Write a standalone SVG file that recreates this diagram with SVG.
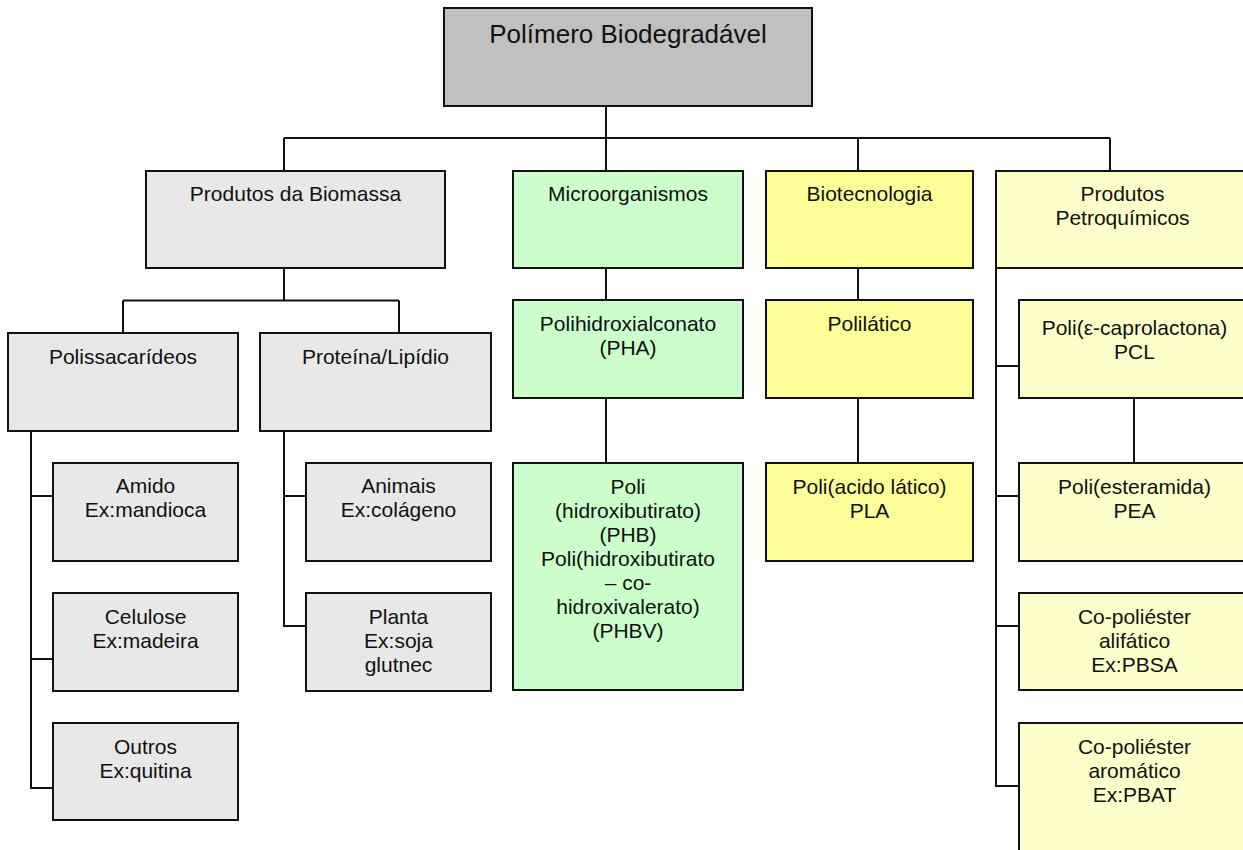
<svg xmlns="http://www.w3.org/2000/svg" width="1243" height="850" viewBox="0 0 1243 850">
<style>
rect{stroke:#111;stroke-width:2}
.top{fill:#c0c0c0}
.g{fill:#e8e8e8}
.gr{fill:#ccffcc}
.y{fill:#ffff99}
.ly{fill:#ffffcc}
text{font-family:"Liberation Sans",Arial,sans-serif;font-size:21px;fill:#111;text-anchor:middle}
.t{font-size:26px}
.c{fill:none;stroke:#111;stroke-width:2}
</style>
<rect width="1243" height="850" fill="#fff" style="stroke:none"/>
<g id="connectors" class="c">
<path d="M606 106V138M284 138H1110M284 138V171M606 138V171M858 138V171M1110 138V171"/>
<path d="M284 268V300.5M123 300.5H399M123 300.5V333M399 300.5V333"/>
<path d="M31 431V788H53M31 496H53M31 659H53"/>
<path d="M284 431V626H306M284 496H306"/>
<path d="M606 268V300M606 398V463"/>
<path d="M858 268V300M858 398V463"/>
<path d="M996 268V786H1019M996 366H1019M996 496H1019M996 626H1019M1134 398V463"/>
</g>
<g id="n-root"><rect class="top" x="444" y="8" width="368" height="98"/><text class="t" x="628" y="43">Polímero Biodegradável</text></g>
<g id="n-biomassa"><rect class="g" x="146" y="171" width="299" height="97"/><text x="295.5" y="201">Produtos da Biomassa</text></g>
<g id="n-micro"><rect class="gr" x="513" y="171" width="230" height="97"/><text x="628" y="201">Microorganismos</text></g>
<g id="n-biotec"><rect class="y" x="766" y="171" width="207" height="97"/><text x="869.5" y="201">Biotecnologia</text></g>
<g id="n-petro"><rect class="ly" x="996" y="171" width="254" height="97"/><text x="1122.5" y="201">Produtos</text><text x="1122.5" y="225">Petroquímicos</text></g>
<g id="n-polis"><rect class="g" x="8" y="333" width="230" height="98"/><text x="123" y="364">Polissacarídeos</text></g>
<g id="n-prot"><rect class="g" x="260" y="333" width="231" height="98"/><text x="375.5" y="364">Proteína/Lipídio</text></g>
<g id="n-pha"><rect class="gr" x="513" y="300" width="230" height="98"/><text x="628" y="331">Polihidroxialconato</text><text x="628" y="355">(PHA)</text></g>
<g id="n-polilatico"><rect class="y" x="766" y="300" width="207" height="98"/><text x="869.5" y="331">Polilático</text></g>
<g id="n-pcl"><rect class="ly" x="1019" y="300" width="231" height="98"/><text x="1134.5" y="335">Poli(ε-caprolactona)</text><text x="1134.5" y="359">PCL</text></g>
<g id="n-amido"><rect class="g" x="53" y="463" width="185" height="98"/><text x="145.5" y="493">Amido</text><text x="145.5" y="517">Ex:mandioca</text></g>
<g id="n-celulose"><rect class="g" x="53" y="593" width="185" height="98"/><text x="145.5" y="624">Celulose</text><text x="145.5" y="648">Ex:madeira</text></g>
<g id="n-outros"><rect class="g" x="53" y="723" width="185" height="97"/><text x="145.5" y="754">Outros</text><text x="145.5" y="778">Ex:quitina</text></g>
<g id="n-animais"><rect class="g" x="306" y="463" width="185" height="98"/><text x="398.5" y="493">Animais</text><text x="398.5" y="517">Ex:colágeno</text></g>
<g id="n-planta"><rect class="g" x="306" y="593" width="185" height="98"/><text x="398.5" y="624">Planta</text><text x="398.5" y="648">Ex:soja</text><text x="398.5" y="672">glutnec</text></g>
<g id="n-phb"><rect class="gr" x="513" y="463" width="230" height="227"/><text x="628" y="494">Poli</text><text x="628" y="518">(hidroxibutirato)</text><text x="628" y="542">(PHB)</text><text x="628" y="566">Poli(hidroxibutirato</text><text x="628" y="590">– co-</text><text x="628" y="614">hidroxivalerato)</text><text x="628" y="638">(PHBV)</text></g>
<g id="n-pla"><rect class="y" x="766" y="463" width="207" height="98"/><text x="869.5" y="494">Poli(acido lático)</text><text x="869.5" y="518">PLA</text></g>
<g id="n-pea"><rect class="ly" x="1019" y="463" width="231" height="98"/><text x="1134.5" y="494">Poli(esteramida)</text><text x="1134.5" y="518">PEA</text></g>
<g id="n-alif"><rect class="ly" x="1019" y="593" width="231" height="97"/><text x="1134.5" y="624">Co-poliéster</text><text x="1134.5" y="648">alifático</text><text x="1134.5" y="672">Ex:PBSA</text></g>
<g id="n-arom"><rect class="ly" x="1019" y="723" width="231" height="140"/><text x="1134.5" y="754">Co-poliéster</text><text x="1134.5" y="778">aromático</text><text x="1134.5" y="802">Ex:PBAT</text></g>
</svg>
